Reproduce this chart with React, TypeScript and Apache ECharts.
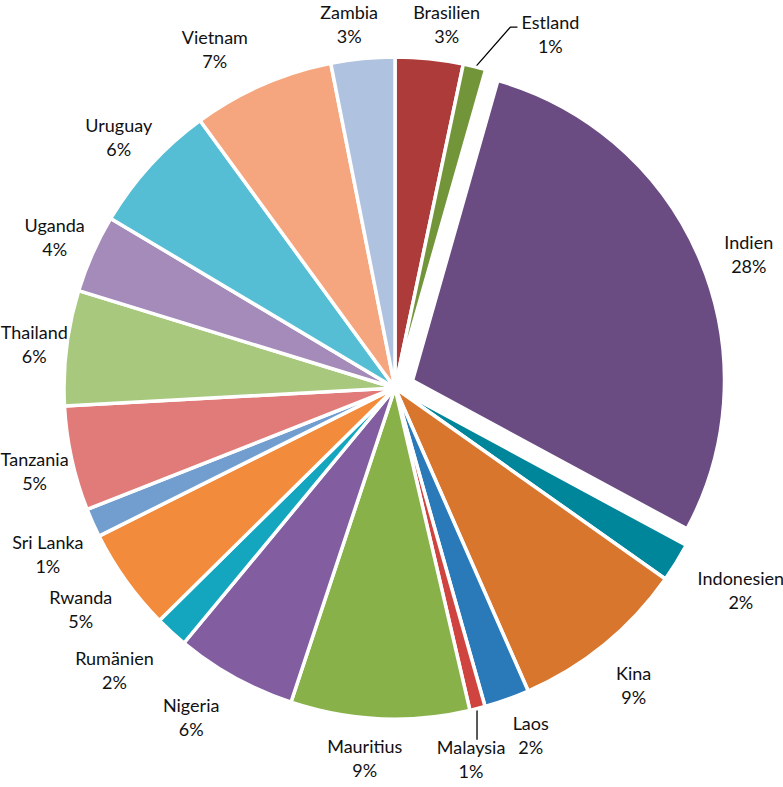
import React, { useEffect, useRef } from "react";
import * as echarts from "echarts";

// ---- data ----
const countries = [
  "Brasilien", "Estland", "Indien", "Indonesien", "Kina", "Laos", "Malaysia",
  "Mauritius", "Nigeria", "Rumänien", "Rwanda", "Sri Lanka", "Tanzania",
  "Thailand", "Uganda", "Uruguay", "Vietnam", "Zambia",
];
const shares = [
  3.3, 1.1, 28.4, 1.9, 8.6, 2.2, 0.75, 8.7, 5.9, 1.6, 5.0, 1.4, 5.1, 5.6, 3.8, 6.4, 6.9, 3.1,
];
const explodedCountry = "Indien";
const leaderLineCountries = ["Estland", "Malaysia"];

// ---- styles ----
const colors = [
  "#AC3B39", "#73953A", "#6A4C83", "#00869A", "#D9762E", "#2A79B9", "#D0443F",
  "#88B14A", "#825EA0", "#14A6BF", "#F28C3C", "#729DCF", "#E07B79", "#A8C87E",
  "#A48BBA", "#55BED4", "#F5A67E", "#AFC2DF",
];
// fine nudges of label blocks [dx, dy] in px (same order as countries)
const labelNudges: number[][] = [
  [13, -6], // Brasilien
  [67, -5], // Estland
  [-3, -2], // Indien
  [21, 12], // Indonesien
  [13, 18], // Kina
  [15, 8], // Laos
  [-17, 22], // Malaysia
  [-13, 10], // Mauritius
  [-26, 14], // Nigeria
  [-25, 17], // Rumänien
  [-13, 11], // Rwanda
  [-5, 19], // Sri Lanka
  [4, 6], // Tanzania
  [9, 0], // Thailand
  [-3, -5], // Uganda
  [-1, -8], // Uruguay
  [-31, -9], // Vietnam
  [-10, -6], // Zambia
];

const W = 783;
const H = 787;
const CX = 395;
const CY = 388;
const R = 331;
const R_EXPLODED = 312;
const EXPLODE = 19;
const GAP = 8;
const FONT = "Lato, 'Open Sans', sans-serif";

export default function App() {
  const ref = useRef<HTMLDivElement>(null);
  useEffect(() => {
    if (!ref.current) return;
    const chart = echarts.init(ref.current, undefined, { renderer: "svg" });
    const total = shares.reduce((a, b) => a + b, 0);
    const mids = shares.map((v, i) => {
      const before = shares.slice(0, i).reduce((a, b) => a + b, 0);
      return ((before + v / 2) / total) * Math.PI * 2;
    });

    const layoutFor = (exploded: boolean) => (p: any) => {
      const i = p.dataIndex;
      const th = mids[i];
      const s = Math.sin(th);
      const c = Math.cos(th);
      const cx = exploded ? CX + EXPLODE * s : CX;
      const cy = exploded ? CY - EXPLODE * c : CY;
      const r = exploded ? R_EXPLODED : R;
      const w = p.labelRect.width;
      const h = p.labelRect.height;
      const x = cx + (r + GAP) * s + (w / 2) * s + labelNudges[i][0];
      const y = cy - (r + GAP) * c - (h / 2) * c + labelNudges[i][1];
      const out: any = { x, y, align: "center", verticalAlign: "middle" };
      const name = countries[i];
      if (leaderLineCountries.includes(name)) {
        const sx = cx + (r - 2) * s;
        const sy = cy - (r - 2) * c;
        if (c > 0) {
          // upper label: line rises to the left of the text
          const ex = x - w / 2 - 4;
          const ey = y - h / 4 + 4;
          out.labelLinePoints = [[sx, sy], [ex - 7, ey], [ex, ey]];
        } else {
          const ey = y - h / 2 + 2;
          out.labelLinePoints = [[sx, sy], [sx, (sy + ey) / 2], [sx, ey]];
        }
      }
      return out;
    };

    const richLabel = {
      show: true,
      position: "outside",
      formatter: (p: any) => `{t|${p.name}}\n{t|${Math.round(p.percent)}%}`,
      rich: {
        t: {
          align: "center",
          fontFamily: FONT,
          fontSize: 18,
          lineHeight: 24,
          color: "#111",
        },
      },
    };

    const dataA = countries.map((name, i) => {
      const hidden = name === explodedCountry;
      return {
        name,
        value: shares[i],
        itemStyle: hidden ? { opacity: 0 } : { color: colors[i] },
        label: hidden ? { show: false } : undefined,
        labelLine: { show: leaderLineCountries.includes(name), lineStyle: { color: "#000", width: 1.3 } },
      };
    });
    const dataB = countries.map((name, i) => {
      const shown = name === explodedCountry;
      return {
        name,
        value: shares[i],
        selected: shown,
        itemStyle: shown ? { color: colors[i] } : { opacity: 0 },
        label: shown ? undefined : { show: false },
        labelLine: { show: false },
      };
    });

    chart.setOption({
      animation: false,
      backgroundColor: "#fff",
      series: [
        {
          type: "pie",
          silent: true,
          center: [CX, CY],
          radius: [0, R],
          startAngle: 90,
          clockwise: true,
          avoidLabelOverlap: false,
          itemStyle: { borderColor: "#fff", borderWidth: 3.5 },
          label: richLabel,
          labelLine: { show: false, length: 10, length2: 5 },
          labelLayout: layoutFor(false),
          emphasis: { disabled: true },
          data: dataA,
        },
        {
          type: "pie",
          silent: true,
          center: [CX, CY],
          radius: [0, R_EXPLODED],
          startAngle: 90,
          clockwise: true,
          avoidLabelOverlap: false,
          selectedMode: "single",
          selectedOffset: EXPLODE,
          itemStyle: { borderColor: "#fff", borderWidth: 3.5 },
          label: richLabel,
          labelLine: { show: false },
          labelLayout: layoutFor(true),
          emphasis: { disabled: true },
          data: dataB,
        },
      ],
    });
    return () => chart.dispose();
  }, []);
  return (
    <div
      ref={ref}
      style={{ position: "fixed", left: 0, top: 0, width: W, height: H, background: "#fff" }}
    />
  );
}
